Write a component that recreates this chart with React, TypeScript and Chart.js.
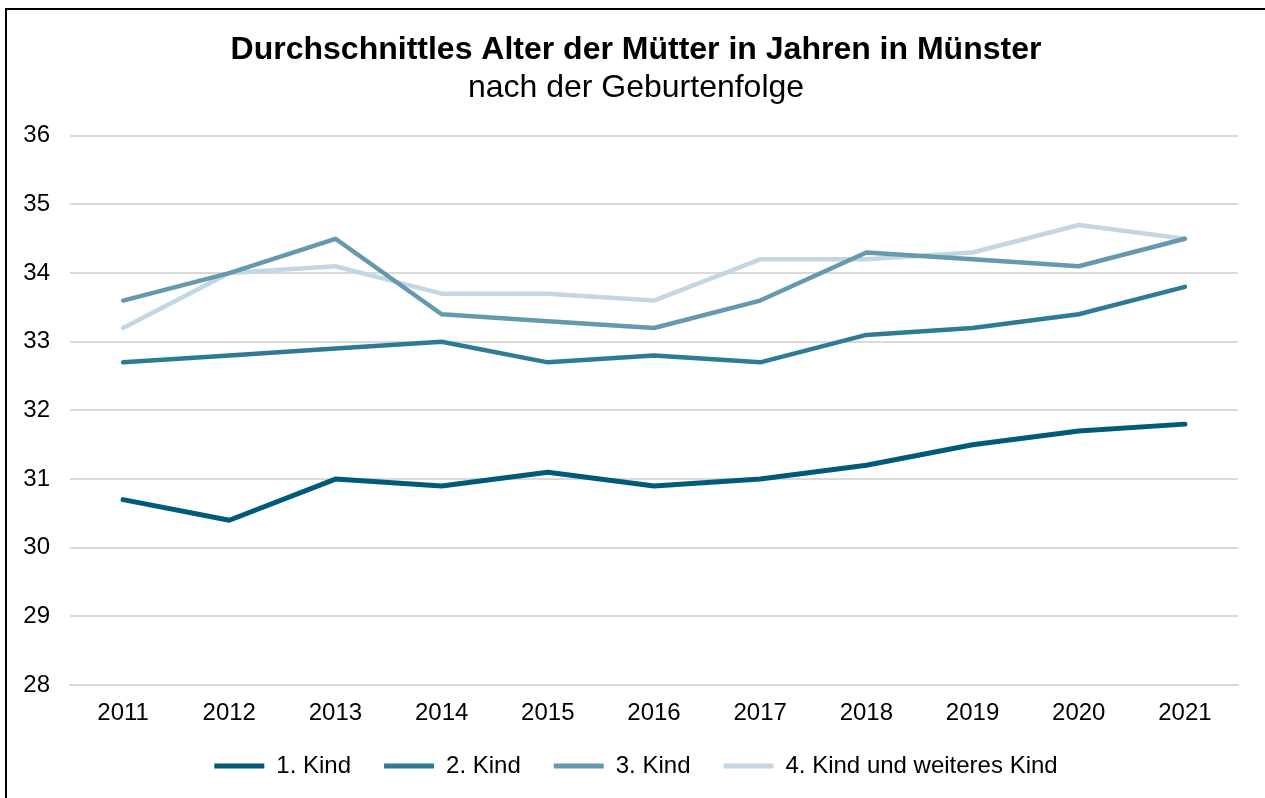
import React, { useEffect, useRef } from "react";
import { Chart, registerables } from "chart.js";

Chart.register(...registerables);

const years = ["2011", "2012", "2013", "2014", "2015", "2016", "2017", "2018", "2019", "2020", "2021"];
const kind1 = [30.7, 30.4, 31.0, 30.9, 31.1, 30.9, 31.0, 31.2, 31.5, 31.7, 31.8];
const kind2 = [32.7, 32.8, 32.9, 33.0, 32.7, 32.8, 32.7, 33.1, 33.2, 33.4, 33.8];
const kind3 = [33.6, 34.0, 34.5, 33.4, 33.3, 33.2, 33.6, 34.3, 34.2, 34.1, 34.5];
const kind4 = [33.2, 34.0, 34.1, 33.7, 33.7, 33.6, 34.2, 34.2, 34.3, 34.7, 34.5];
const seriesNames = ["1. Kind", "2. Kind", "3. Kind", "4. Kind und weiteres Kind"];
const seriesColors = ["#005b78", "#2f7a94", "#6499ae", "#c3d6e3"];
const titleText = "Durchschnittles Alter der Mütter in Jahren in Münster";
const subtitleText = "nach der Geburtenfolge";

export default function App() {
  const ref = useRef<HTMLCanvasElement | null>(null);
  useEffect(() => {
    if (!ref.current) return;
    const font = "'Liberation Sans', Arial, sans-serif";
    const all = [kind1, kind2, kind3, kind4];
    const noClip = (s: any) => {
      s._computeLabelArea = () => undefined;
    };
    const chart = new Chart(ref.current, {
      type: "line",
      data: {
        labels: years,
        datasets: all.map((d, i) => ({
          label: seriesNames[i],
          data: d,
          borderColor: seriesColors[i],
          backgroundColor: seriesColors[i],
          borderWidth: i === 0 ? 5 : 4.5,
          pointRadius: 0,
          tension: 0,
          borderCapStyle: "round" as const,
          borderJoinStyle: "round" as const,
        })),
      },
      options: {
        animation: false,
        responsive: false,
        layout: { padding: { left: 27, right: 27, top: 0, bottom: 14 } },
        plugins: {
          title: {
            display: true,
            text: titleText,
            color: "#000",
            font: { family: font, size: 32, weight: "bold" },
            padding: { top: 21, bottom: 0 },
          },
          subtitle: {
            display: true,
            text: subtitleText,
            color: "#000",
            font: { family: font, size: 32, weight: "normal" },
            padding: { top: 0, bottom: 28 },
          },
          legend: {
            position: "bottom",
            labels: {
              color: "#000",
              font: { family: font, size: 24 },
              boxWidth: 50,
              boxHeight: 5,
              padding: 33,
              generateLabels: (c: any) =>
                c.data.datasets.map((ds: any, i: number) => ({
                  text: ds.label,
                  fillStyle: ds.borderColor,
                  strokeStyle: ds.borderColor,
                  lineWidth: 0,
                  fontColor: "#000",
                  datasetIndex: i,
                  hidden: false,
                })),
            },
          },
          tooltip: { enabled: false },
        },
        scales: {
          x: {
            offset: true,
            grid: { display: false, drawTicks: false },
            border: { display: true, color: "#d9d9d9", width: 2 },
            ticks: { color: "#000", font: { family: font, size: 24 }, padding: 14, autoSkip: false, maxRotation: 0 },
            afterFit: (s: any) => {
              s.height = 36;
              noClip(s);
            },
          },
          y: {
            min: 28,
            max: 36,
            grid: { color: "#d9d9d9", lineWidth: 2, drawTicks: false },
            border: { display: false },
            ticks: { stepSize: 1, color: "#000", font: { family: font, size: 24 }, padding: 20 },
            afterFit: (s: any) => {
              s.width = 36;
              noClip(s);
            },
          },
        },
      },
    });
    return () => chart.destroy();
  }, []);
  return (
    <div
      style={{
        position: "absolute",
        left: 5,
        top: 8,
        width: 1262,
        height: 792,
        border: "2px solid #000",
        background: "#fff",
        boxSizing: "content-box",
      }}
    >
      <canvas ref={ref} width={1258} height={792} style={{ display: "block" }} />
    </div>
  );
}
